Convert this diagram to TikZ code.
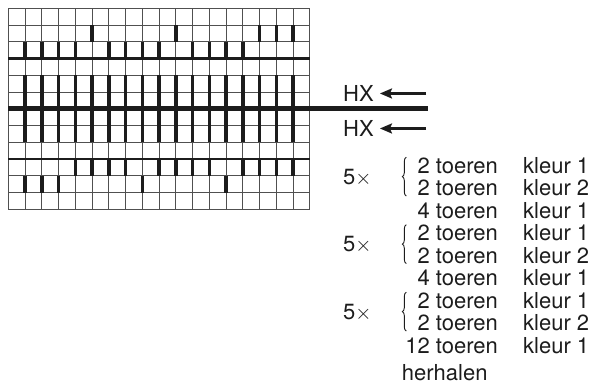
\documentclass[tikz,border=0pt]{standalone}
\usepackage{fontspec}
\setmainfont{TeX Gyre Heros}
\usepackage{tikz}
\usetikzlibrary{arrows.meta, positioning, decorations.pathreplacing}
\definecolor{inkt}{RGB}{28,28,28}
\definecolor{lijn}{RGB}{80,80,80}
\tikzset{
  rooster/.style={draw=lijn, line width=0.8pt},
  steek/.style={line width=3.6pt, color=inkt},
  scheiding/.style={line width=2.6pt, color=inkt},
  midden/.style={line width=4.8pt, color=inkt},
  regel/.style={font=\fontsize{22}{26}\selectfont, inner sep=0pt, text=inkt},
  pijl/.style={-{Stealth[length=12pt, width=10pt, inset=2pt]}, line width=2.2pt, color=inkt},
  accolade/.style={decorate, decoration={brace, amplitude=4pt}, line width=0.9pt, color=inkt}
}

\begin{document}
\begin{tikzpicture}[x=1pt, y=-1pt]
  \useasboundingbox (0,0) rectangle (595,388);

  % ruitjespatroon
  \begin{scope}[shift={(8.3,8.3)}, x=16.75pt, y=-16.75pt]
    \foreach \k in {0,...,18} \draw[rooster] (\k,0) -- (\k,12);
    \foreach \j in {0,...,12} \draw[rooster] (0,\j) -- (18,\j);
    \foreach \k in {5,10,15,16,17} \draw[steek] (\k,1) -- (\k,2);
    \foreach \k in {1,2,3,4,6,7,8,9,11,12,13,14} \draw[steek] (\k,2) -- (\k,3);
    \foreach \k in {1,...,17} \draw[steek] (\k,4) -- (\k,8);
    \foreach \k in {4,5,6,7,9,10,11,12,14,15,16,17} \draw[steek] (\k,9) -- (\k,10);
    \foreach \k in {1,2,3,8,13} \draw[steek] (\k,10) -- (\k,11);
    \draw[scheiding] (0,3) -- (18,3);
    \draw[scheiding] (0,9) -- (18,9);
    \draw[midden] (0,6) -- ++(420pt,0);
  \end{scope}

  % HX-pijlen
  \node[regel, anchor=base west] (hx1) at (343,101.5) {HX};
  \node[regel, anchor=base west] (hx2) at (343,136.5) {HX};
  \coordinate (staart1) at (426,0 |- hx1.east);
  \coordinate (staart2) at (426,0 |- hx2.east);
  \draw[pijl] (staart1) -- ([xshift=6pt]hx1.east);
  \draw[pijl] (staart2) -- ([xshift=6pt]hx2.east);

  % toeren en kleuren
  \foreach \n/\t/\c in {0/2/1, 1/2/2, 2/4/1, 3/2/1, 4/2/2, 5/4/1, 6/2/1, 7/2/2, 8/12/1} {
    \node[regel, anchor=base east] (t\n) at (498,{173+22.5*\n}) {\t\ toeren};
    \node[regel, anchor=base west] (k\n) at (523,{173+22.5*\n}) {kleur \c};
  }
  \foreach \a/\b/\g in {0/1/0, 3/4/1, 6/7/2} {
    \node[regel, anchor=base west] (keer\g) at (343,{184.3+67.5*\g}) {5$\times$};
    \draw[accolade] ([xshift=-11pt]t\b.south west) -- ([xshift=-11pt]t\a.north west);
  }
  \node[regel, anchor=base west] (herhaal) at (401.7,380) {herhalen};
\end{tikzpicture}
\end{document}
